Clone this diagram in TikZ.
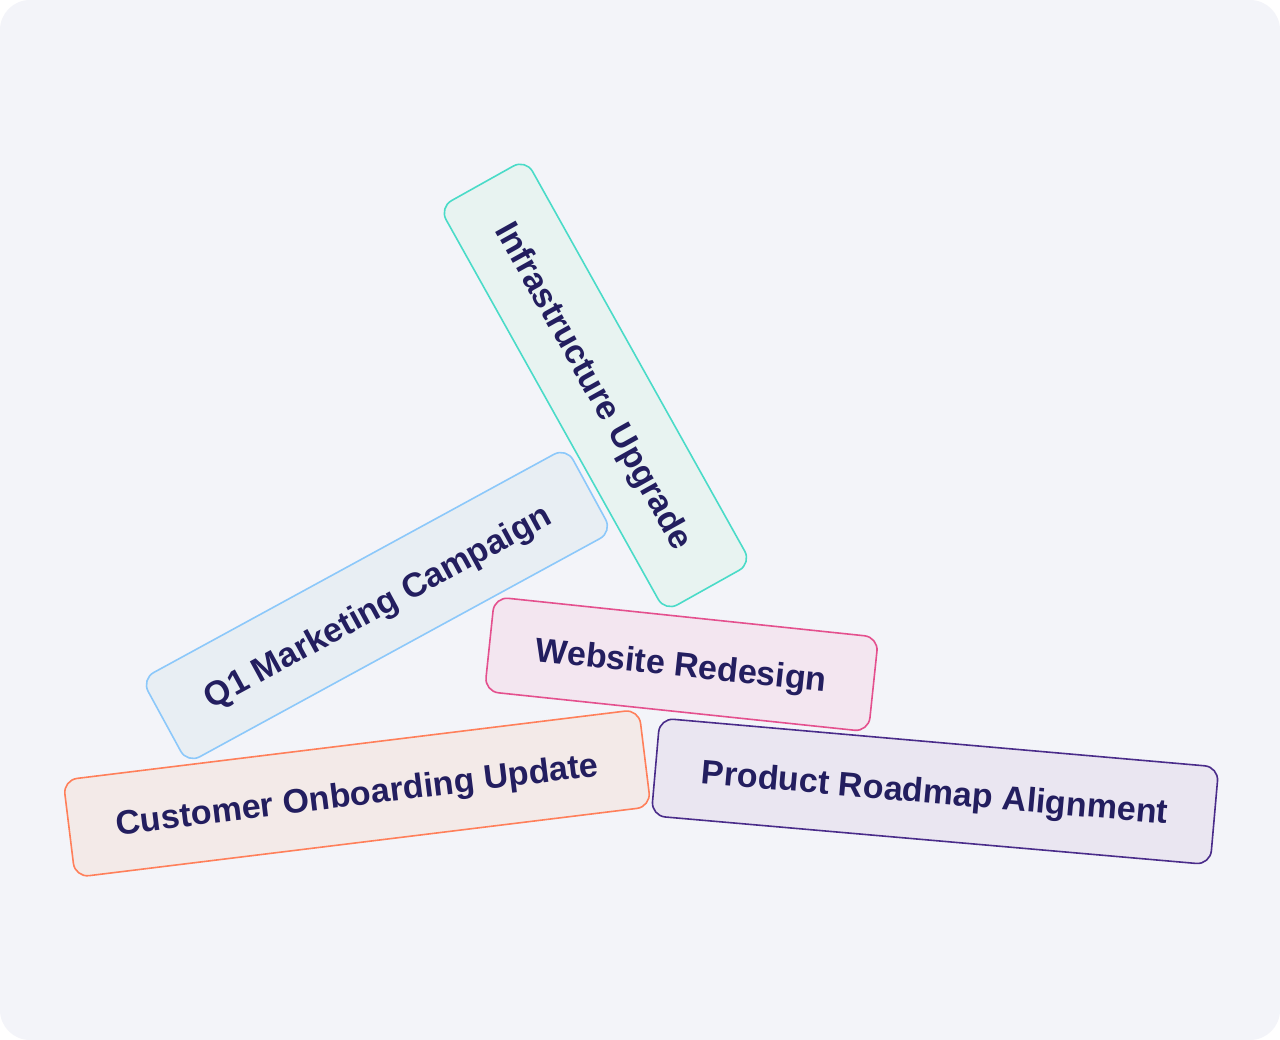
\documentclass[tikz,border=0pt]{standalone}
\usepackage{fontspec}
\setmainfont{Liberation Sans}
\definecolor{bgc}{HTML}{F3F4F9}
\definecolor{ink}{HTML}{231E5F}
\definecolor{tealS}{HTML}{4ADBC8}
\definecolor{tealF}{HTML}{E8F3F1}
\definecolor{blueS}{HTML}{8CC8FA}
\definecolor{blueF}{HTML}{E8EEF3}
\definecolor{pinkS}{HTML}{E4508E}
\definecolor{pinkF}{HTML}{F3E6F0}
\definecolor{oranS}{HTML}{FF7F5A}
\definecolor{oranF}{HTML}{F3EAE8}
\definecolor{purpS}{HTML}{4A2C8A}
\definecolor{purpF}{HTML}{EAE6F1}
\begin{document}
\begin{tikzpicture}[x=1pt,y=-1pt,
  card/.style={rectangle, rounded corners=14pt, line width=1.6pt, inner sep=0pt,
    text=ink, font=\fontsize{34}{36}\selectfont\bfseries,
    text height=24.3pt, text depth=0pt, align=center}]
\useasboundingbox (0,0) rectangle (1280,1040);
\fill[white] (0,0) rectangle (1280,1040);
\fill[bgc, rounded corners=30pt] (0,0) rectangle (1280,1040);

\node[card, draw=tealS, fill=tealF, minimum width=463pt, minimum height=99pt, rotate=-60.8]
  (infra) at (595.4,385.4) {Infrastructure Upgrade};
\node[card, draw=blueS, fill=blueF, minimum width=484pt, minimum height=96pt, rotate=28.6]
  (q1) at (376.9,605.5) {Q1 Marketing Campaign};
\node[card, draw=pinkS, fill=pinkF, minimum width=386pt, minimum height=95pt, rotate=-6]
  (web) at (681.5,664.3) {Website Redesign};
\node[card, draw=oranS, fill=oranF, minimum width=580pt, minimum height=98pt, rotate=7]
  (onb) at (357,793.4) {Customer Onboarding Update};
\node[card, draw=purpS, fill=purpF, minimum width=561pt, minimum height=98pt, rotate=-5]
  (road) at (935,791.4) {Product Roadmap Alignment};
\end{tikzpicture}
\end{document}
